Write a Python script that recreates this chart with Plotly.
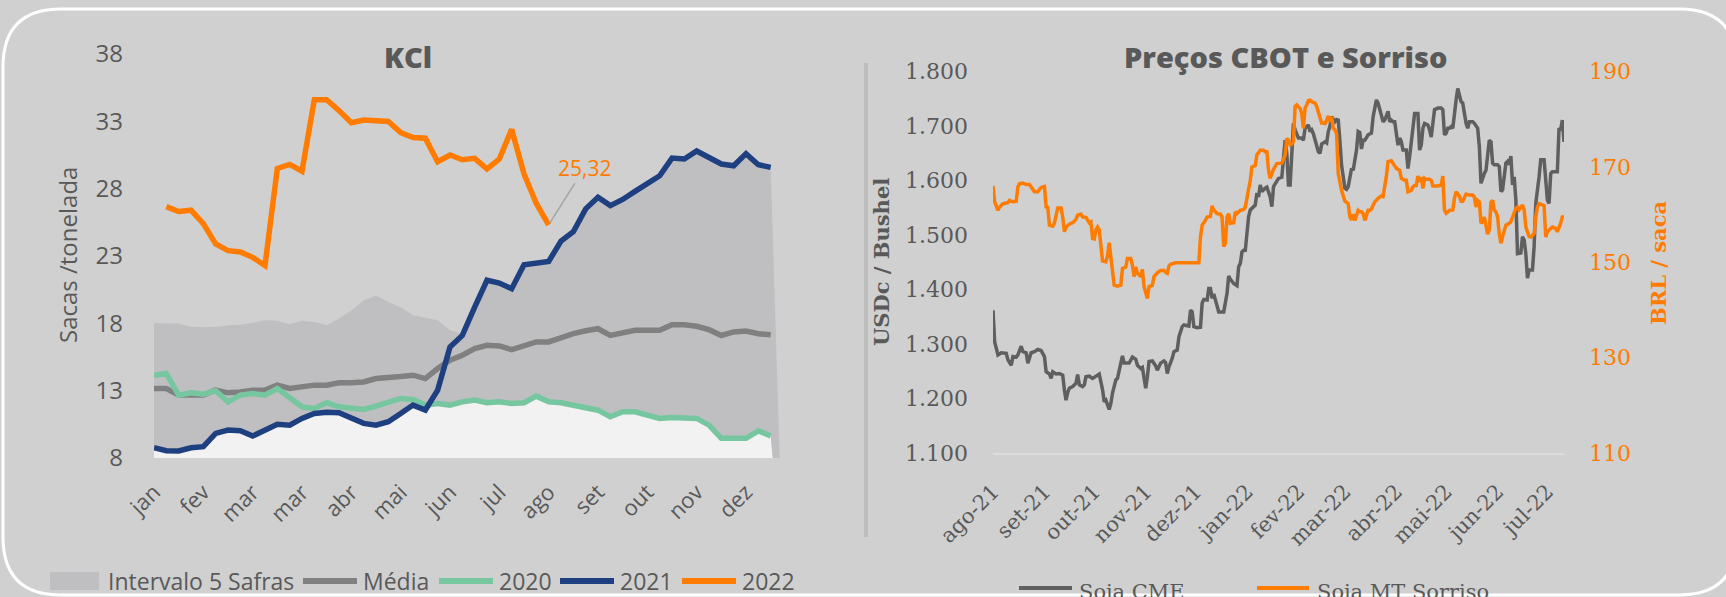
"""
Painel KCl + Preços CBOT e Sorriso, recriado em Plotly.
"""
import pandas as pd
import plotly.graph_objects as go

LARGURA, ALTURA = 1726, 597
COR_FUNDO = '#d0d0d0'
COR_TEXTO = '#595959'
COR_BANDA = '#bfbfc1'
COR_BANDA_MIN = '#f2f2f2'
COR_MEDIA = '#808080'
COR_2020 = '#76c7a0'
COR_2021 = '#1f4080'
COR_LARANJA = '#ff7c00'
COR_CME = '#5f5f5f'
FONTE_SANS = 'Open Sans'
FONTE_SERIF = 'DejaVu Serif'

# ---------------- KCl (sacas / tonelada, semanal) ----------------
meses_kcl = ['jan', 'fev', 'mar', 'mar', 'abr', 'mai', 'jun', 'jul', 'ago', 'set', 'out', 'nov', 'dez']
semanas = list(range(52))

media = [13.16, 13.16, 12.67, 12.67, 12.67, 13.04, 12.84, 12.91, 13.04, 13.04,
         13.41, 13.16, 13.28, 13.41, 13.41, 13.58, 13.58, 13.65, 13.9, 14.02,
         14.05, 14.15, 13.9, 14.64, 15.26, 15.63, 16.12, 16.37, 16.32, 16.05,
         16.3, 16.62, 16.62, 16.94, 17.23, 17.45, 17.6, 17.1, 17.28, 17.48,
         17.48, 17.48, 17.9, 17.9, 17.78, 17.53, 17.1, 17.36, 17.43, 17.23, 17.16]
y2020 = [14.15, 14.27, 12.67, 12.84, 12.74, 12.99, 12.17, 12.67, 12.79, 12.67,
         13.16, 12.42, 11.8, 11.68, 12.1, 11.8, 11.68, 11.6, 11.85, 12.17,
         12.42, 12.35, 11.93, 12.05, 11.93, 12.17, 12.3, 12.1, 12.17, 12.05,
         12.1, 12.59, 12.17, 12.1, 11.93, 11.7, 11.55, 11.06, 11.43, 11.43,
         11.19, 10.94, 11.0, 11.0, 10.94, 10.44, 9.46, 9.46, 9.46, 10.02, 9.63]
y2021 = [8.76, 8.54, 8.52, 8.76, 8.84, 9.83, 10.07, 10.02, 9.63, 10.07,
         10.5, 10.44, 10.94, 11.3, 11.4, 11.36, 10.99, 10.57, 10.44, 10.69,
         11.31, 11.93, 11.56, 13.04, 16.24, 17.1, 19.2, 21.2, 20.99, 20.57,
         22.35, 22.47, 22.6, 24.1, 24.8, 26.5, 27.36, 26.74, 27.2, 27.8,
         28.35, 28.96, 30.27, 30.2, 30.8, 30.37, 29.83, 29.7, 30.6, 29.78, 29.58]
# 2022 começa na segunda semana
y2022 = [26.67, 26.3, 26.4, 25.4, 23.9, 23.4, 23.3, 22.9, 22.3, 29.5,
         29.8, 29.3, 34.6, 34.6, 33.8, 32.9, 33.1, 33.05, 32.99, 32.17,
         31.8, 31.75, 30.0, 30.5, 30.15, 30.25, 29.46, 30.2, 32.4, 29.1,
         26.9, 25.32]
# Intervalo 5 safras (mínimo e máximo); última semana vazia = 0
banda_min = [8.76, 8.54, 8.52, 8.76, 8.84, 9.83, 10.07, 10.02, 9.63, 10.07,
             10.5, 10.44, 10.94, 11.3, 11.4, 11.36, 10.99, 10.57, 10.44, 10.69,
             11.31, 11.93, 11.56, 12.05, 11.93, 12.17, 12.3, 12.1, 12.17, 12.05,
             12.1, 12.59, 12.17, 12.1, 11.93, 11.7, 11.55, 11.06, 11.43, 11.43,
             11.19, 10.94, 11.0, 11.0, 10.94, 10.44, 9.46, 9.46, 9.46, 10.02, 9.63, 0]
banda_max = [18.05, 17.98, 17.98, 17.73, 17.7, 17.73, 17.85, 17.9, 18.03, 18.22,
             18.2, 17.93, 18.2, 18.1, 17.85, 18.35, 18.96, 19.7, 20.07, 19.58,
             19.2, 18.6, 18.42, 18.22, 17.48, 17.2, 19.2, 21.2, 20.99, 20.57,
             22.35, 22.47, 22.6, 24.1, 24.8, 26.5, 27.36, 26.74, 27.2, 27.8,
             28.35, 28.96, 30.27, 30.2, 30.8, 30.37, 29.83, 29.7, 30.6, 29.78, 29.58, 0]

# ---------------- CBOT (USDc/bu) e Sorriso (BRL/saca), diário ----------------
inicio = '2021-08-02'
meses_cbot = ['ago-21', 'set-21', 'out-21', 'nov-21', 'dez-21', 'jan-22',
              'fev-22', 'mar-22', 'abr-22', 'mai-22', 'jun-22', 'jul-22']

cme_dia = [0, 1, 3, 5, 8, 9, 11, 12, 14, 15, 17, 18, 20, 21, 23, 25, 27, 29, 31, 32,
           34, 35, 36, 38, 40, 42, 43, 44, 45, 46, 48, 50, 51, 52, 54, 55, 56, 58, 60, 62,
           64, 66, 67, 68, 70, 71, 72, 74, 75, 77, 78, 79, 81, 82, 84, 86, 87, 89, 90, 92,
           93, 94, 96, 98, 99, 101, 103, 104, 105, 106, 108, 109, 111, 112, 114, 115, 118, 119, 120, 121,
           123, 125, 126, 127, 129, 130, 131, 132, 133, 135, 136, 139, 141, 142, 143, 145, 147, 148, 149, 150,
           151, 152, 154, 155, 157, 158, 159, 160, 161, 162, 164, 165, 167, 168, 169, 171, 172, 174, 175, 176,
           177, 178, 179, 180, 181, 182, 184, 186, 187, 188, 190, 191, 192, 193, 194, 196, 197, 198, 200, 201,
           202, 203, 204, 206, 207, 208, 209, 210, 212, 213, 214, 216, 217, 218, 219, 220, 221, 222, 223, 224,
           226, 228, 229, 231, 232, 234, 235, 236, 238, 239, 240, 241, 242, 244, 245, 246, 247, 249, 250, 251,
           252, 253, 254, 256, 257, 258, 259, 260, 262, 263, 264, 265, 266, 268, 270, 271, 272, 273, 274, 275,
           276, 277, 278, 279, 280, 281, 282, 283, 284, 285, 286, 287, 289, 290, 292, 293, 294, 295, 296, 297,
           298, 299, 300, 301, 302, 303, 304, 305, 306, 307, 308, 309, 310, 311, 312, 313, 314, 315, 316, 317,
           318, 319, 320, 321, 322, 323, 325, 326, 327, 329, 330, 332, 333, 334, 335, 336, 337, 339, 340, 341,
           342, 343, 344]
cme_usdc = [1362, 1304, 1280, 1284, 1283, 1271, 1261, 1277, 1276, 1280, 1296, 1286, 1284, 1265, 1284, 1286, 1290, 1288, 1277, 1249,
            1245, 1237, 1249, 1245, 1246, 1243, 1216, 1197, 1211, 1219, 1222, 1228, 1244, 1225, 1222, 1225, 1240, 1241, 1237, 1241,
            1245, 1216, 1194, 1197, 1180, 1191, 1210, 1234, 1237, 1265, 1278, 1265, 1266, 1265, 1276, 1272, 1261, 1255, 1257, 1219,
            1240, 1268, 1269, 1260, 1252, 1265, 1269, 1266, 1246, 1258, 1274, 1286, 1289, 1313, 1332, 1335, 1333, 1362, 1359, 1332,
            1330, 1331, 1375, 1382, 1381, 1402, 1402, 1384, 1392, 1369, 1359, 1359, 1393, 1425, 1419, 1411, 1407, 1442, 1448, 1469,
            1472, 1472, 1534, 1546, 1552, 1555, 1577, 1570, 1592, 1580, 1586, 1588, 1570, 1552, 1589, 1601, 1604, 1606, 1638, 1674,
            1650, 1592, 1592, 1650, 1705, 1693, 1678, 1678, 1674, 1696, 1702, 1690, 1693, 1686, 1674, 1653, 1650, 1667, 1671, 1669,
            1690, 1700, 1717, 1708, 1712, 1711, 1672, 1628, 1586, 1584, 1589, 1622, 1619, 1640, 1656, 1690, 1688, 1658, 1674, 1674,
            1684, 1687, 1717, 1748, 1742, 1720, 1708, 1711, 1727, 1708, 1711, 1708, 1708, 1665, 1678, 1671, 1656, 1656, 1622, 1644,
            1668, 1693, 1723, 1723, 1656, 1665, 1696, 1705, 1702, 1693, 1680, 1705, 1730, 1733, 1733, 1730, 1684, 1687, 1696, 1696,
            1699, 1696, 1727, 1748, 1769, 1754, 1745, 1742, 1720, 1705, 1696, 1708, 1708, 1705, 1696, 1662, 1595, 1607, 1613, 1619,
            1653, 1674, 1671, 1632, 1629, 1629, 1629, 1626, 1580, 1583, 1613, 1632, 1635, 1629, 1645, 1592, 1607, 1564, 1466, 1466,
            1467, 1497, 1491, 1466, 1421, 1436, 1436, 1479, 1558, 1607, 1638, 1638, 1607, 1564, 1558, 1613, 1616, 1616, 1616, 1696,
            1693, 1711, 1671]

sorriso_dia = [0, 1, 3, 4, 6, 9, 10, 12, 14, 15, 16, 18, 20, 22, 23, 25, 27, 29, 31, 32,
               33, 34, 36, 37, 39, 41, 42, 43, 44, 46, 48, 50, 51, 53, 54, 56, 58, 59, 60, 61,
               62, 63, 64, 65, 66, 68, 69, 70, 71, 72, 73, 75, 77, 78, 80, 81, 83, 84, 85, 86,
               87, 89, 90, 91, 93, 94, 96, 97, 99, 101, 103, 104, 105, 106, 107, 110, 113, 115, 124, 125,
               126, 128, 129, 131, 132, 133, 135, 137, 138, 139, 140, 141, 142, 143, 145, 146, 147, 149, 151, 152,
               153, 155, 156, 158, 159, 160, 161, 163, 164, 165, 166, 167, 168, 169, 171, 173, 174, 176, 177, 178,
               179, 180, 181, 182, 183, 185, 186, 187, 188, 189, 190, 191, 192, 194, 195, 196, 198, 199, 200, 201,
               202, 203, 204, 205, 206, 207, 208, 210, 211, 212, 214, 215, 216, 217, 218, 220, 221, 222, 223, 224,
               226, 227, 228, 230, 231, 232, 234, 235, 237, 238, 240, 241, 243, 245, 246, 248, 249, 250, 252, 253,
               254, 255, 256, 257, 258, 259, 260, 261, 263, 264, 265, 267, 268, 270, 271, 272, 273, 275, 277, 278,
               279, 281, 282, 283, 284, 285, 287, 289, 290, 291, 292, 293, 294, 295, 296, 297, 298, 299, 300, 301,
               302, 303, 304, 305, 306, 307, 308, 309, 311, 312, 313, 314, 315, 316, 317, 319, 320, 321, 323, 324,
               326, 327, 328, 329, 331, 332, 333, 334, 336, 337, 339, 340, 342, 343, 344]
sorriso_brl = [166.0, 162.7, 160.9, 161.6, 162.3, 162.5, 163.0, 162.7, 162.8, 165.8, 166.5, 166.6, 166.3, 166.3, 165.8, 164.8, 164.8, 165.7, 165.9, 161.6,
               161.5, 157.8, 157.6, 158.2, 161.4, 161.4, 159.5, 156.4, 157.4, 158.0, 158.3, 159.0, 159.9, 160.1, 159.5, 159.4, 158.3, 158.5, 155.0, 154.9,
               156.8, 157.4, 156.8, 152.9, 150.3, 150.1, 151.3, 154.1, 151.2, 147.7, 145.2, 145.0, 145.2, 148.7, 149.0, 150.8, 150.8, 149.4, 147.0, 149.0,
               147.7, 147.0, 148.5, 144.9, 142.4, 144.9, 145.2, 147.0, 147.8, 148.3, 148.3, 147.9, 147.7, 149.2, 149.6, 149.9, 149.9, 149.9, 149.9, 155.3,
               157.8, 158.8, 159.5, 159.6, 161.8, 161.0, 160.2, 160.1, 159.5, 153.3, 154.0, 159.5, 160.2, 158.2, 158.3, 160.6, 160.2, 160.9, 161.1, 161.6,
               163.4, 167.2, 170.0, 170.3, 172.5, 173.0, 173.5, 173.5, 173.2, 173.2, 169.3, 167.6, 168.6, 169.5, 170.7, 170.7, 170.8, 172.5, 176.0, 175.6,
               174.6, 174.8, 175.3, 182.7, 183.0, 182.3, 181.2, 178.1, 182.3, 183.0, 183.9, 184.0, 183.7, 183.4, 182.7, 181.5, 179.2, 179.2, 179.1, 179.8,
               180.7, 179.5, 180.5, 178.1, 177.8, 177.0, 168.6, 165.1, 163.7, 162.8, 162.3, 159.5, 158.9, 160.1, 158.8, 160.9, 160.6, 160.6, 160.2, 158.8,
               160.9, 160.9, 161.2, 162.7, 163.0, 163.4, 163.9, 163.8, 168.1, 171.1, 171.3, 170.8, 169.7, 169.3, 167.6, 167.2, 167.2, 164.8, 165.1, 165.8,
               166.1, 166.1, 168.1, 166.9, 167.9, 165.5, 167.6, 167.4, 167.4, 167.2, 166.0, 166.0, 166.0, 166.2, 168.1, 160.9, 160.3, 160.9, 161.0, 163.4,
               164.8, 163.9, 162.8, 162.8, 163.7, 164.3, 164.1, 164.1, 163.7, 161.6, 163.0, 162.7, 158.2, 158.5, 159.5, 157.4, 155.9, 156.8, 162.6, 163.0,
               160.9, 160.6, 159.5, 156.0, 154.0, 155.4, 156.8, 157.8, 158.2, 158.5, 159.5, 160.6, 161.3, 161.6, 161.0, 162.0, 161.0, 157.4, 155.4, 155.3,
               156.0, 159.5, 161.6, 162.3, 161.9, 161.9, 155.3, 156.4, 157.1, 157.4, 157.1, 156.4, 158.2, 159.5, 159.6]


def px(x):
    """Converte pixel horizontal para coordenada paper."""
    return x / LARGURA


def py(y):
    """Converte pixel vertical (de cima) para coordenada paper."""
    return 1 - y / ALTURA


def borda_arredondada(x0, y0, x1, y1, r):
    """Caminho SVG (coordenadas paper) de um retângulo com cantos arredondados."""
    def p(x, y):
        return f'{px(x):.5f},{py(y):.5f}'
    return (f'M{p(x0 + r, y0)} L{p(x1 - r, y0)} Q{p(x1, y0)} {p(x1, y0 + r)} '
            f'L{p(x1, y1 - r)} Q{p(x1, y1)} {p(x1 - r, y1)} '
            f'L{p(x0 + r, y1)} Q{p(x0, y1)} {p(x0, y1 - r)} '
            f'L{p(x0, y0 + r)} Q{p(x0, y0)} {p(x0 + r, y0)} Z')


def texto(x, y, s, size=23, color=COR_TEXTO, family=FONTE_SANS, angle=0, anchor='left', weight=None):
    fonte = dict(family=family, size=size, color=color)
    if weight:
        fonte['weight'] = weight
    return dict(x=px(x), y=py(y), xref='paper', yref='paper', text=s, showarrow=False,
                xanchor=anchor, yanchor='middle', textangle=angle, font=fonte)


def linha(x0, x1, y, color, width):
    return dict(type='line', xref='paper', yref='paper', x0=px(x0), x1=px(x1),
                y0=py(y), y1=py(y), line=dict(color=color, width=width))


fig = go.Figure()

# --- KCl ---
fig.add_trace(go.Scatter(x=semanas, y=banda_min, mode='lines', line=dict(width=0),
                         fill='tozeroy', fillcolor=COR_BANDA_MIN, hoverinfo='skip'))
fig.add_trace(go.Scatter(x=semanas, y=banda_max, mode='lines', line=dict(width=0),
                         fill='tonexty', fillcolor=COR_BANDA, name='Intervalo 5 Safras'))
for nome, serie, cor in [('Média', media, COR_MEDIA), ('2020', y2020, COR_2020), ('2021', y2021, COR_2021)]:
    fig.add_trace(go.Scatter(x=semanas[:len(serie)], y=serie, mode='lines', name=nome,
                             line=dict(color=cor, width=5.5)))
fig.add_trace(go.Scatter(x=semanas[1:1 + len(y2022)], y=y2022, mode='lines', name='2022',
                         line=dict(color=COR_LARANJA, width=5.5)))

# --- CBOT x Sorriso ---
t0 = pd.Timestamp(inicio)
cme_datas = t0 + pd.to_timedelta(cme_dia, unit='D')
sorriso_datas = t0 + pd.to_timedelta(sorriso_dia, unit='D')
fig.add_trace(go.Scatter(x=cme_datas, y=cme_usdc, mode='lines', name='Soja CME',
                         line=dict(color=COR_CME, width=3.5), xaxis='x2', yaxis='y2'))
fig.add_trace(go.Scatter(x=sorriso_datas, y=sorriso_brl, mode='lines', name='Soja MT Sorriso',
                         line=dict(color=COR_LARANJA, width=3.5), xaxis='x2', yaxis='y3'))

ticks_cbot = pd.date_range(inicio, periods=len(meses_cbot), freq=pd.DateOffset(months=1))
fim = t0 + pd.Timedelta(days=max(cme_dia))

eixo = dict(showgrid=False, zeroline=False, ticks='', showline=False)
fig.update_layout(
    width=LARGURA, height=ALTURA, autosize=False,
    margin=dict(l=0, r=0, t=0, b=0, autoexpand=False),
    paper_bgcolor=COR_FUNDO, plot_bgcolor='rgba(0,0,0,0)',
    separators=',.', showlegend=False,
    xaxis=dict(eixo, domain=[px(154), px(783)], range=[0, 51],
               tickmode='array', tickvals=semanas[::4][:len(meses_kcl)], ticktext=meses_kcl,
               tickangle=-45, ticklabelstandoff=16,
               tickfont=dict(family=FONTE_SANS, size=22, color=COR_TEXTO)),
    yaxis=dict(eixo, domain=[py(458), py(54)], range=[8, 38], tick0=8, dtick=5,
               ticklabelstandoff=30, tickfont=dict(family=FONTE_SANS, size=24, color=COR_TEXTO)),
    xaxis2=dict(eixo, domain=[px(993), px(1564)], range=[t0, fim], anchor='y2',
                tickmode='array', tickvals=ticks_cbot, ticktext=meses_cbot,
                tickangle=-45, ticklabelstandoff=16, showline=True, linecolor='#dcdcdc', linewidth=2,
                tickfont=dict(family=FONTE_SERIF, size=21, color=COR_TEXTO)),
    yaxis2=dict(eixo, domain=[py(453), py(71.6)], range=[1100, 1800], dtick=100, anchor='x2',
                tickformat=',d', ticklabelstandoff=24,
                tickfont=dict(family=FONTE_SERIF, size=22, color=COR_TEXTO)),
    yaxis3=dict(eixo, range=[110, 190], tick0=110, dtick=20, overlaying='y2', side='right', anchor='x2',
                ticklabelstandoff=24, tickfont=dict(family=FONTE_SERIF, size=22, color=COR_LARANJA)),
)

# moldura, divisória e legendas desenhadas à mão
shapes = [
    dict(type='path', xref='paper', yref='paper', path=borda_arredondada(3, 9, 1737, 595, 58),
         line=dict(color='white', width=3), fillcolor='rgba(0,0,0,0)'),
    dict(type='line', xref='paper', yref='paper', x0=px(866), x1=px(866), y0=py(63), y1=py(537),
         line=dict(color='#bdbdbd', width=4)),
    dict(type='rect', xref='paper', yref='paper', x0=px(50), x1=px(99), y0=py(590), y1=py(572),
         fillcolor=COR_BANDA, line=dict(width=0)),
    linha(303, 357, 581, COR_MEDIA, 6),
    linha(439, 493, 581, COR_2020, 6),
    linha(560, 614, 581, COR_2021, 6),
    linha(682, 736, 581, COR_LARANJA, 6),
    linha(1019, 1072, 588, COR_CME, 4),
    linha(1257, 1309, 588, COR_LARANJA, 4),
]

annotations = [
    texto(408, 57, 'KCl', size=29, anchor='center', weight=800),
    texto(1285, 57, 'Preços CBOT e Sorriso', size=29, anchor='center', weight=800),
    texto(68, 255, 'Sacas /tonelada', size=24, angle=-90, anchor='center'),
    texto(881, 262, '<b>USDc / Bushel</b>', size=21, family=FONTE_SERIF, angle=-90, anchor='center'),
    texto(1658, 263, '<b>BRL / saca</b>', size=21, family=FONTE_SERIF, color=COR_LARANJA, angle=-90, anchor='center'),
    texto(106, 581, 'Intervalo 5 Safras'),
    texto(361, 581, 'Média'),
    texto(497, 581, '2020'),
    texto(618, 581, '2021'),
    texto(740, 581, '2022'),
    texto(1077, 592, 'Soja CME', size=21, family=FONTE_SERIF),
    texto(1315, 592, 'Soja MT Sorriso', size=21, family=FONTE_SERIF),
    dict(x=semanas[len(y2022)], y=y2022[-1], xref='x', yref='y',
         text=f'{y2022[-1]:.2f}'.replace('.', ','), showarrow=True, arrowhead=0,
         arrowwidth=1.5, arrowcolor='#a6a6a6', ax=36, ay=-57, standoff=2,
         font=dict(family=FONTE_SANS, size=21, color=COR_LARANJA)),
]
fig.update_layout(shapes=shapes, annotations=annotations)

# sem barra de ferramentas e sem margem na página: a figura ocupa a janela inteira
fig.write_html("out.html", config={'displayModeBar': False},
               post_script="document.body.style.margin = '0';")
